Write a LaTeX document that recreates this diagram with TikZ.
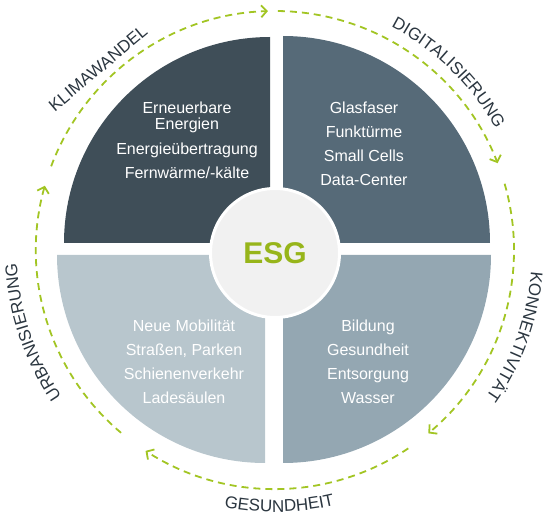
\documentclass[tikz,border=0pt]{standalone}
\usepackage{fontspec}
\setmainfont{Liberation Sans}
\usetikzlibrary{arrows.meta,decorations.text,calc}
\definecolor{qtl}{HTML}{3F4E58}
\definecolor{qtr}{HTML}{566A78}
\definecolor{qbl}{HTML}{B8C6CD}
\definecolor{qbr}{HTML}{94A7B2}
\definecolor{esgfill}{HTML}{F1F1F1}
\definecolor{esggreen}{HTML}{97B51A}
\definecolor{dashgreen}{HTML}{A2C523}
\definecolor{labc}{HTML}{2B3640}
\newcommand{\labfont}{\fontsize{17}{20}\selectfont}
\begin{document}
\begin{tikzpicture}[x=1pt,y=1pt,
  qtext/.style={text=white, font=\fontsize{16}{19}\selectfont, anchor=base, inner sep=0pt},
  dasharc/.style={draw=dashgreen, line width=1.8pt, dash pattern=on 7pt off 5pt,
    -{Straight Barb[length=5.5pt,width=12pt]}},
  esgcircle/.style={circle, fill=esgfill, draw=white, line width=3pt, minimum size=129pt,
    inner sep=0pt, text=esggreen, font=\fontsize{30}{34}\selectfont\bfseries},
  arclabel/.style={decorate, decoration={text along path, text align=center, text color=labc}}
]
\useasboundingbox (0,0) rectangle (550,515);
\coordinate (c) at (275,265);

% quadrants
\fill[qtl] (270,272) -- (64,272) arc[start angle=180,end angle=90,radius=206] -- cycle;
\fill[qtr] (283,272) -- (283,479) arc[start angle=90,end angle=0,radius=207] -- cycle;
\fill[qbl] (265,260) -- (57,260) arc[start angle=180,end angle=270,radius=208] -- cycle;
\fill[qbr] (283,260) -- (491,260) arc[start angle=0,end angle=-90,radius=208] -- cycle;

% centre
\node[esgcircle] (esg) at (275,262) {ESG};

% quadrant texts
\node[qtext] (tl1) at (187,401) {Erneuerbare};
\node[qtext] (tl2) at (187,385) {Energien};
\node[qtext] (tl3) at (187,360) {Energieübertragung};
\node[qtext] (tl4) at (187,336.7) {Fernwärme/-kälte};

\node[qtext] (tr1) at (364,401) {Glasfaser};
\node[qtext] (tr2) at (364,377.3) {Funktürme};
\node[qtext] (tr3) at (364,353.3) {Small Cells};
\node[qtext] (tr4) at (364,329.3) {Data-Center};

\node[qtext] (bl1) at (184,183.3) {Neue Mobilität};
\node[qtext] (bl2) at (184,159) {Straßen, Parken};
\node[qtext] (bl3) at (184,135) {Schienenverkehr};
\node[qtext] (bl4) at (184,111) {Ladesäulen};

\node[qtext] (br1) at (368,183.3) {Bildung};
\node[qtext] (br2) at (368,159) {Gesundheit};
\node[qtext] (br3) at (368,135) {Entsorgung};
\node[qtext] (br4) at (368,111) {Wasser};

% dashed cycle arrows
\draw[dasharc] ($(c)+(159.5:239)$) arc[start angle=159.5,end angle=91.7,radius=239];
\draw[dasharc] ($(c)+(89.3:239)$) arc[start angle=89.3,end angle=21.3,radius=239];
\draw[dasharc] ($(c)+(16.1:239)$) arc[start angle=16.1,end angle=-50.1,radius=239];
\draw[dasharc] ($(c)+(-56.1:239)$) arc[start angle=-56.1,end angle=-122.8,radius=239];
\draw[dasharc] ($(c)+(229.9:239)$) arc[start angle=229.9,end angle=164.4,radius=239];

% outer labels
\node[text=labc, font=\labfont, rotate=40, inner sep=0pt] (klima) at (98,446.5) {KLIMAWANDEL};
\path[arclabel, decoration={text={|\labfont|DIGITALISIERUNG}}]
  ($(c)+(75.6:251.5)$) arc[start angle=75.6,end angle=15.6,radius=251.5];
\path[arclabel, decoration={text={|\labfont|KONNEKTIVITÄT}}]
  ($(c)+(10.2:257)$) arc[start angle=10.2,end angle=-49.8,radius=257];
\path[arclabel, decoration={text={|\labfont|GESUNDHEIT}}]
  ($(c)+(-115:262)$) arc[start angle=-115,end angle=-63,radius=262];
\path[arclabel, decoration={text={|\labfont|URBANISIERUNG}}]
  ($(c)+(228.7:258.5)$) arc[start angle=228.7,end angle=168.7,radius=258.5];
\end{tikzpicture}
\end{document}
